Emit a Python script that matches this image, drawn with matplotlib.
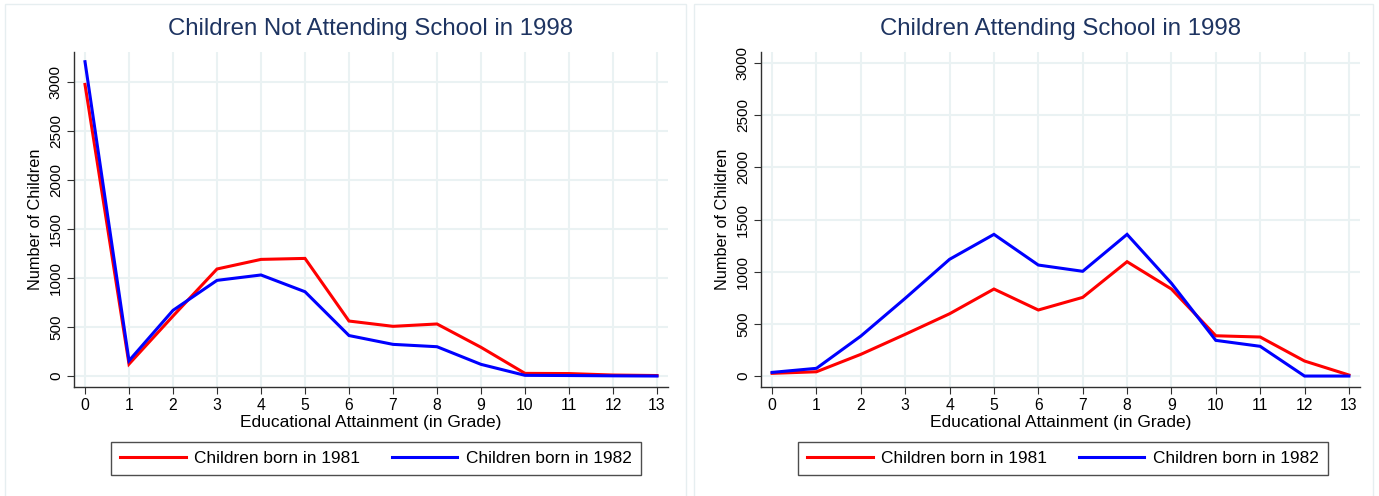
import matplotlib
matplotlib.use("Agg")
import matplotlib.pyplot as plt
from matplotlib.patches import Rectangle
from matplotlib.lines import Line2D

grades = list(range(14))

# Children not attending school in 1998
not_attending_1981 = [2975, 122, 612, 1092, 1190, 1200, 561, 507, 531, 293, 27, 25, 10, 5]
not_attending_1982 = [3207, 156, 670, 976, 1031, 860, 413, 323, 299, 119, 7, 5, 2, 0]

# Children attending school in 1998
attending_1981 = [26, 41, 208, 400, 597, 834, 633, 754, 1096, 834, 386, 374, 144, 10]
attending_1982 = [35, 74, 383, 745, 1119, 1358, 1064, 1004, 1358, 889, 342, 285, 0, 0]

titles = ["Children Not Attending School in 1998", "Children Attending School in 1998"]
series_labels = ["Children born in 1981", "Children born in 1982"]
y_ticks = [0, 500, 1000, 1500, 2000, 2500, 3000]
x_label = "Educational Attainment (in Grade)"
y_label = "Number of Children"

plt.rcParams['font.family'] = ['Liberation Sans', 'DejaVu Sans']

W, H = 1379, 496
fig = plt.figure(figsize=(W / 100, H / 100), dpi=100)
fig.patch.set_facecolor('white')

def fx(px):
    return px / W

def fy(py):
    return 1 - py / H

# panel borders
for (x0, x1) in [(5, 686), (693.5, 1373)]:
    fig.add_artist(Rectangle((fx(x0), fy(500)), fx(x1 - x0), (500 - 3.5) / H,
                             transform=fig.transFigure, fill=False,
                             edgecolor='#e6eef0', linewidth=1.0))

panels = [
    dict(data=(not_attending_1981, not_attending_1982), left=74, right=668,
         ylim=(-112, 3306), legend_x=(110, 642)),
    dict(data=(attending_1981, attending_1982), left=761, right=1360,
         ylim=(-105, 3106), legend_x=(797, 1329)),
]

grid_color = '#eaf2f3'
title_color = '#1e3461'
axis_color = '#303030'

for i, p in enumerate(panels):
    top, bottom = 52, 387
    ax = fig.add_axes([fx(p['left']), fy(bottom), fx(p['right'] - p['left']), (bottom - top) / H])
    s81, s82 = p['data']
    ax.plot(grades, s81, color='#ff0000', lw=2.2, solid_joinstyle='miter', zorder=3)
    ax.plot(grades, s82, color='#0000ff', lw=2.2, solid_joinstyle='miter', zorder=3)
    ax.set_xlim(-0.25, 13.25)
    ax.set_ylim(*p['ylim'])
    ax.set_xticks(grades)
    ax.set_yticks(y_ticks)
    ax.set_yticklabels([str(v) for v in y_ticks], rotation=90, va='center')
    ax.tick_params(axis='y', labelsize=11, length=5, width=0.8, color=axis_color, pad=3)
    ax.tick_params(axis='x', labelsize=11.3, length=5, width=0.8, color=axis_color, pad=3)
    ax.grid(True, color=grid_color, linewidth=1.5)
    ax.set_axisbelow(True)
    for s in ['top', 'right']:
        ax.spines[s].set_visible(False)
    for s in ['left', 'bottom']:
        ax.spines[s].set_color(axis_color)
        ax.spines[s].set_linewidth(1.0)
    ax.set_xlabel(x_label, fontsize=12.5, labelpad=1)
    ax.set_ylabel(y_label, fontsize=11.7, labelpad=4)
    ax.set_title(titles[i], fontsize=17.3, color=title_color, pad=12)

    lx0, lx1 = p['legend_x']
    handles = [Line2D([], [], color='#ff0000', lw=2.2), Line2D([], [], color='#0000ff', lw=2.2)]
    leg = fig.legend(handles, series_labels, loc='center',
                     bbox_to_anchor=(fx((lx0 + lx1) / 2), fy(458.5)),
                     ncol=2, fontsize=12.4, frameon=True, fancybox=False,
                     edgecolor='#202020', handlelength=3.8, handletextpad=0.5,
                     columnspacing=1.85, borderpad=0.5, borderaxespad=0)
    leg.get_frame().set_linewidth(1.0)

fig.savefig('out.png', dpi=100, facecolor='white')
